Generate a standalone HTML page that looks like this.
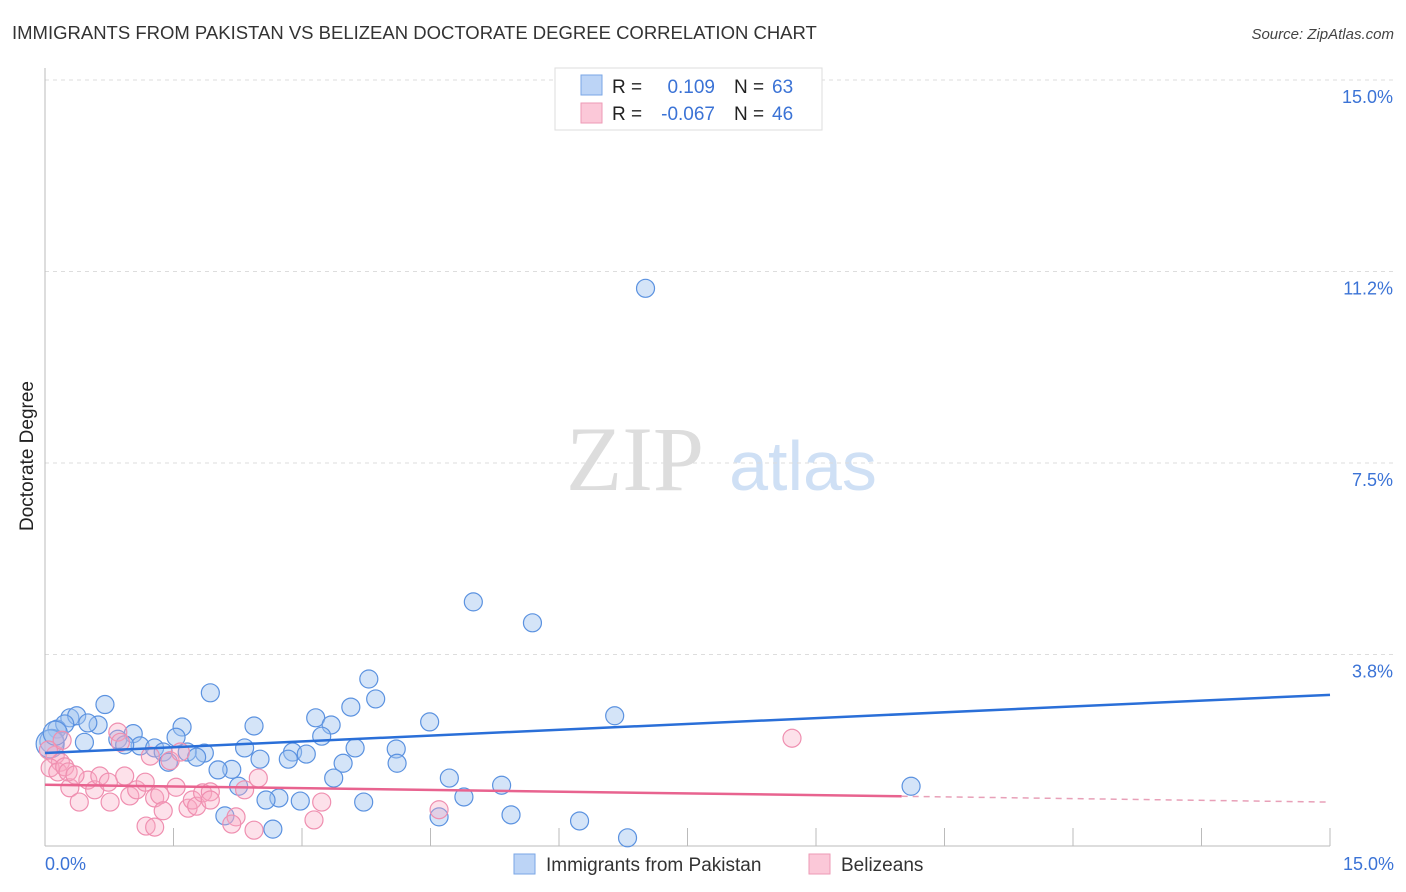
<!DOCTYPE html>
<html><head><meta charset="utf-8">
<style>
body{margin:0;background:#fff;font-family:"Liberation Sans",sans-serif;}
#wrap{position:relative;width:1406px;height:892px;overflow:hidden;}
</style></head>
<body>
<div id="wrap">
<svg id="chart" width="1406" height="892" xmlns="http://www.w3.org/2000/svg">
<text x="12" y="39" font-size="18.5" fill="#333">IMMIGRANTS FROM PAKISTAN VS BELIZEAN DOCTORATE DEGREE CORRELATION CHART</text>
<text x="1394" y="39" font-size="15" fill="#444" font-style="italic" text-anchor="end">Source: ZipAtlas.com</text>
<text x="33" y="456" font-size="19" fill="#222" text-anchor="middle" transform="rotate(-90 33 456)">Doctorate Degree</text>
<g>
<text x="635" y="490" font-size="92" fill="#ddd" font-family="Liberation Serif,serif" text-anchor="middle">ZIP</text>
<text x="803" y="490" font-size="70" fill="#cfe0f5" text-anchor="middle">atlas</text>
</g>
<g id="grid"></g>
<g id="pts"></g>
<g id="lines"></g>
<g>
<rect x="555" y="68" width="267" height="62" fill="#fff" stroke="#ddd"/>
<rect x="581" y="75" width="21" height="20" fill="#bcd4f6" stroke="#7aa6e6"/>
<rect x="581" y="103" width="21" height="20" fill="#fbc8d8" stroke="#ee9ab6"/>
<text x="612" y="93" font-size="19" fill="#222">R =</text>
<text x="715" y="93" font-size="19" fill="#3b73d6" text-anchor="end">0.109</text>
<text x="734" y="93" font-size="19" fill="#222">N =</text>
<text x="772" y="93" font-size="19" fill="#3b73d6">63</text>
<text x="612" y="120" font-size="19" fill="#222">R =</text>
<text x="715" y="120" font-size="19" fill="#3b73d6" text-anchor="end">-0.067</text>
<text x="734" y="120" font-size="19" fill="#222">N =</text>
<text x="772" y="120" font-size="19" fill="#3b73d6">46</text>
</g>
<g>
<rect x="514" y="854" width="21" height="20" fill="#bcd4f6" stroke="#7aa6e6"/>
<text x="546" y="871" font-size="19" fill="#333">Immigrants from Pakistan</text>
<rect x="809" y="854" width="21" height="20" fill="#fbc8d8" stroke="#ee9ab6"/>
<text x="841" y="871" font-size="19" fill="#333">Belizeans</text>
</g>
<text x="45" y="870" font-size="18" fill="#3b73d6">0.0%</text>
<text x="1394" y="870" font-size="18" fill="#3b73d6" text-anchor="end">15.0%</text>
</svg>
</div>
<script>
const yTicks=[3.75,7.5,11.25,15];
const yTickLabels=["3.8%","7.5%","11.2%","15.0%"];
const xTicks=[1.5,3,4.5,6,7.5,9,10.5,12,13.5,15];
const pakX=[7.01,5.0,5.69,3.78,3.86,3.57,1.93,0.70,6.65,3.16,4.49,3.34,2.44,1.6,0.29,0.37,0.62,0.5,0.14,0.23,1.03,1.53,3.23,0.85,0.46,2.33,3.62,4.1,2.89,3.05,1.11,1.28,1.38,1.86,1.66,1.77,2.84,2.51,3.48,4.11,1.44,2.18,2.02,3.37,4.72,5.33,10.11,2.26,4.89,2.73,2.98,2.58,3.72,2.1,4.6,5.44,6.24,2.66,6.8,0.93,0.08,0.06,0.12];
const pakY=[10.92,4.78,4.37,3.27,2.88,2.72,3.0,2.77,2.55,2.51,2.43,2.37,2.35,2.33,2.51,2.55,2.37,2.41,2.29,2.39,2.2,2.13,2.15,2.09,2.03,1.92,1.92,1.9,1.84,1.8,1.96,1.92,1.84,1.82,1.84,1.74,1.70,1.70,1.62,1.62,1.64,1.5,1.49,1.33,1.33,1.19,1.17,1.17,0.96,0.94,0.88,0.90,0.86,0.59,0.57,0.61,0.49,0.33,0.16,1.98,2.05,2.0,2.21];
const pakR=[9,9,9,9,9,9,9,9,9,9,9,9,9,9,9,9,9,9,9,9,9,9,9,9,9,9,9,9,9,9,9,9,9,9,9,9,9,9,9,9,9,9,9,9,9,9,9,9,9,9,9,9,9,9,9,9,9,9,9,9,12,14,12];
const belX=[8.72,0.12,0.18,0.06,0.15,0.23,0.29,0.4,0.5,0.58,0.64,0.74,0.85,0.93,0.99,1.07,1.17,1.23,1.28,1.34,1.38,1.46,1.53,1.67,1.72,1.77,1.84,1.93,2.23,2.18,2.44,2.49,3.14,3.23,4.6,1.18,1.28,0.76,0.27,0.35,1.58,2.33,0.2,0.04,0.88,1.93];
const belY=[2.11,1.78,1.64,1.53,1.45,1.55,1.14,0.86,1.29,1.1,1.37,1.25,2.23,1.37,0.98,1.1,1.25,1.76,0.94,1.0,0.69,1.67,1.15,0.74,0.9,0.78,1.04,1.06,0.57,0.43,0.31,1.33,0.51,0.86,0.71,0.39,0.37,0.86,1.45,1.39,1.84,1.1,2.07,1.88,2.03,0.9];
const belR=[9,9,9,9,9,9,9,9,9,9,9,9,9,9,9,9,9,9,9,9,9,9,9,9,9,9,9,9,9,9,9,9,9,9,9,9,9,9,9,9,9,9,9,9,9,9];
const pakTrend=[1.82,2.96];
const belTrend=[1.20,0.86];
const belSolidEnd=10.0;

const NS="http://www.w3.org/2000/svg";
const X0=45,X1=1330,Y0=846,YPER=51.07;
const sx=v=>X0+(X1-X0)*v/15;
const sy=v=>Y0-v*YPER;
function mk(tag,attrs,parent){const e=document.createElementNS(NS,tag);for(const k in attrs)e.setAttribute(k,attrs[k]);parent.appendChild(e);return e;}
const grid=document.getElementById('grid');
yTicks.forEach((t,i)=>{
  const l=mk('line',{x1:X0,x2:1394,y1:sy(t),y2:sy(t),stroke:'#ddd','stroke-dasharray':'4,4'},grid);
  
  
  const tx=mk('text',{x:1393,y:sy(t)+23,'font-size':18,fill:'#3b73d6','text-anchor':'end'},grid);
  tx.textContent=yTickLabels[i];
  
  
});
const ax=mk('line',{x1:X0,x2:X0,y1:68,y2:Y0,stroke:'#bbb'},grid);


const bx=mk('line',{x1:X0,x2:X1,y1:Y0,y2:Y0,stroke:'#bbb'},grid);


xTicks.forEach(t=>{
  const l=mk('line',{x1:sx(t),x2:sx(t),y1:Y0-18,y2:Y0,stroke:'#bbb'},grid);
  
  
});
const pts=document.getElementById('pts');
pakX.forEach((x,i)=>{
  const c=mk('circle',{cx:sx(x),cy:sy(pakY[i]),r:pakR[i],fill:'rgba(160,196,240,0.45)',stroke:'#5b92e0','stroke-width':1.2},pts);
  
  
});
belX.forEach((x,i)=>{
  const c=mk('circle',{cx:sx(x),cy:sy(belY[i]),r:belR[i],fill:'rgba(248,170,196,0.35)',stroke:'#ef8fb0','stroke-width':1.2},pts);
  
  
});
const lines=document.getElementById('lines');
const bl=mk('line',{x1:sx(0),y1:sy(pakTrend[0]),x2:sx(15),y2:sy(pakTrend[1]),stroke:'#2a6fd8','stroke-width':2.5},lines);


const bEnd=belTrend[0]+(belTrend[1]-belTrend[0])*belSolidEnd/15;
const pl=mk('line',{x1:sx(0),y1:sy(belTrend[0]),x2:sx(belSolidEnd),y2:sy(bEnd),stroke:'#e8638f','stroke-width':2.5},lines);


const pd=mk('line',{x1:sx(belSolidEnd),y1:sy(bEnd),x2:sx(15),y2:sy(belTrend[1]),stroke:'#e8a0b8','stroke-width':1.5,'stroke-dasharray':'6,5'},lines);


</script>
</body></html>
